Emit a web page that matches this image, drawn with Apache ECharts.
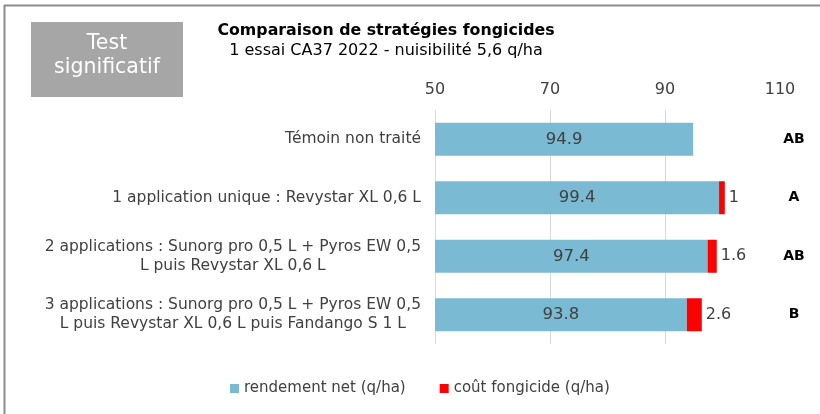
<!DOCTYPE html>
<html>
<head>
    <meta charset="utf-8">
    <title>Comparaison de stratégies fongicides</title>
    <script src="https://cdn.jsdelivr.net/npm/echarts@6/dist/echarts.min.js"></script>
    <style>
        html, body { margin: 0; padding: 0; background: #fff; }
    </style>
</head>
<body>
    <div id="main" style="width:820px;height:414px;"></div>
    <script type="text/javascript">
// données
var categories = [
    'Témoin non traité',
    '1 application unique : Revystar XL 0,6 L',
    '2 applications : Sunorg pro 0,5 L + Pyros EW 0,5\nL puis Revystar XL 0,6 L',
    '3 applications : Sunorg pro 0,5 L + Pyros EW 0,5\nL puis Revystar XL 0,6 L puis Fandango S 1 L'
];
var rendementNet = [94.9, 99.4, 97.4, 93.8];
var coutFongicide = ['-', 1, 1.6, 2.6];
var groupes = ['AB', 'A', 'AB', 'B'];
var xTicks = { min: 50, max: 110, interval: 20 };

var police = 'DejaVu Sans, Verdana, sans-serif';
var gris = '#404040';

var myChart = echarts.init(document.getElementById('main'));

var option = {
    backgroundColor: '#ffffff',
    textStyle: { fontFamily: police },
    title: {
        text: 'Comparaison de stratégies fongicides',
        subtext: '1 essai CA37 2022 - nuisibilité 5,6 q/ha',
        left: 386,
        top: 23,
        padding: 0,
        itemGap: 4,
        textAlign: 'center',
        textStyle: { fontFamily: police, fontSize: 15.8, fontWeight: 'bold', color: '#000' },
        subtextStyle: { fontFamily: police, fontSize: 16, color: '#000' }
    },
    legend: {
        left: 225,
        top: 376,
        icon: 'rect',
        itemWidth: 9,
        itemHeight: 9,
        itemGap: 34,
        textStyle: { fontFamily: police, fontSize: 15, color: gris },
        data: ['rendement net (q/ha)', 'coût fongicide (q/ha)']
    },
    grid: {
        left: 435,
        right: 40,
        top: 110,
        height: 234,
        containLabel: false
    },
    xAxis: {
        type: 'value',
        position: 'top',
        min: xTicks.min,
        max: xTicks.max,
        interval: xTicks.interval,
        axisLine: { show: false },
        axisTick: { show: false },
        axisLabel: { fontFamily: police, fontSize: 16, color: gris, margin: 12 },
        splitLine: {
            lineStyle: { color: ['#D9D9D9', '#D9D9D9', '#D9D9D9', 'rgba(0,0,0,0)'], width: 1 }
        }
    },
    yAxis: [{
        type: 'category',
        inverse: true,
        data: categories,
        axisLine: { show: false },
        axisTick: { show: false },
        axisLabel: {
            margin: 14,
            formatter: function (value) {
                return value.split('\n').map(function (l) { return '{c|' + l + '}'; }).join('\n');
            },
            rich: {
                c: { align: 'center', fontFamily: police, fontSize: 15.5, color: gris, lineHeight: 19 }
            }
        }
    }, {
        type: 'category',
        inverse: true,
        position: 'right',
        data: groupes,
        axisLine: { show: false },
        axisTick: { show: false },
        axisLabel: {
            margin: 14,
            align: 'center',
            fontFamily: police,
            fontSize: 14,
            fontWeight: 'bold',
            color: '#000'
        }
    }],
    series: [{
        name: 'rendement net (q/ha)',
        type: 'bar',
        stack: 'total',
        barWidth: 33,
        itemStyle: { color: '#7BBAD3' },
        label: {
            show: true,
            position: 'inside',
            fontFamily: police,
            fontSize: 16.5,
            color: gris,
            formatter: function (p) { return p.value.toFixed(1); }
        },
        data: rendementNet
    }, {
        name: 'coût fongicide (q/ha)',
        type: 'bar',
        stack: 'total',
        barWidth: 33,
        itemStyle: { color: '#FF0000' },
        label: {
            show: true,
            position: 'right',
            distance: 4,
            fontFamily: police,
            fontSize: 16,
            color: gris
        },
        data: coutFongicide
    }],
    graphic: [{
        type: 'line',
        shape: { x1: 4.5, y1: 5, x2: 4.5, y2: 414 },
        style: { stroke: '#8C8C8C', lineWidth: 2 }
    }, {
        type: 'line',
        shape: { x1: 4, y1: 5.5, x2: 820, y2: 5.5 },
        style: { stroke: '#8C8C8C', lineWidth: 2 }
    }, {
        type: 'rect',
        shape: { x: 31, y: 22, width: 152, height: 75 },
        style: { fill: '#A6A6A6' }
    }, {
        type: 'text',
        x: 107,
        y: 56,
        style: {
            text: 'Test\nsignificatif',
            fill: '#ffffff',
            font: '20.5px ' + police,
            lineHeight: 24,
            align: 'center',
            verticalAlign: 'middle'
        }
    }]
};

myChart.setOption(option);
    </script>
</body>
</html>
